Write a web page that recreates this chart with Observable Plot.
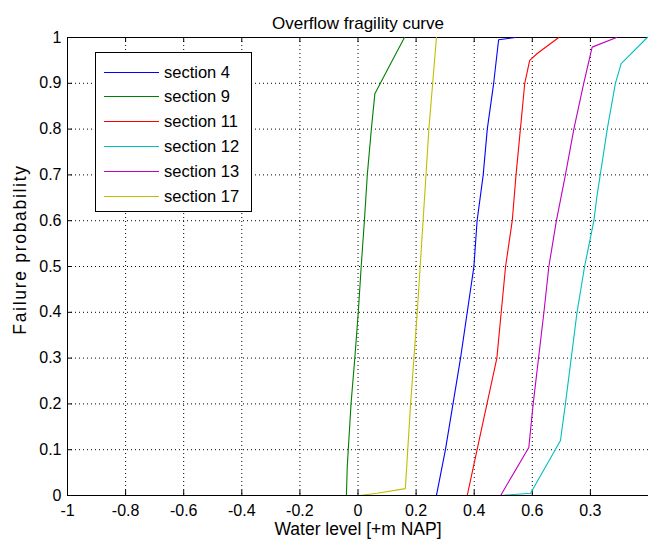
<!DOCTYPE html>
<html>
<head>
<meta charset="utf-8">
<script src="https://cdn.jsdelivr.net/npm/d3@7"></script>
<script src="https://cdn.jsdelivr.net/npm/@observablehq/plot@0.6"></script>
<style>
  body { margin: 0; background: #fff; }
  #wrap { position: relative; width: 648px; height: 545px; font-family: "Liberation Sans", Arial, sans-serif; }
  #legend { position: absolute; left: 95px; top: 52px; width: 155px; height: 158px; border: 1px solid #000; background: #fff; box-sizing: content-box; }
  .row { position: absolute; left: 8px; height: 20px; display: flex; align-items: center; font-size: 16.5px; color: #000; white-space: nowrap; }
  .row .sw { width: 55px; height: 0; border-top: 1.3px solid; margin-right: 5px; }
</style>
</head>
<body>
<div id="wrap"></div>
<script>
// ---- data ----
const sections = ["section 4", "section 9", "section 11", "section 12", "section 13", "section 17"];
const colors = ["#0000ff", "#008000", "#ff0000", "#00bfbf", "#bf00bf", "#bfbf00"];

const level4  = [0.270, 0.301, 0.353, 0.399, 0.410, 0.431, 0.445, 0.467, 0.484, 0.542];
const prob4   = [0.000, 0.100, 0.300, 0.500, 0.600, 0.700, 0.800, 0.900, 0.995, 1.000];

const level9  = [-0.040, -0.037, -0.024, -0.011, 0.001, 0.011, 0.022, 0.032, 0.046, 0.058, 0.077, 0.118, 0.160];
const prob9   = [0.000, 0.063, 0.200, 0.300, 0.400, 0.500, 0.600, 0.700, 0.800, 0.877, 0.900, 0.950, 1.000];

const level11 = [0.320, 0.376, 0.410, 0.478, 0.493, 0.508, 0.531, 0.544, 0.559, 0.574, 0.591, 0.617, 0.691];
const prob11  = [0.000, 0.000, 0.100, 0.300, 0.400, 0.500, 0.600, 0.700, 0.800, 0.900, 0.950, 0.965, 1.000];

const level12 = [0.491, 0.594, 0.697, 0.714, 0.754, 0.780, 0.812, 0.822, 0.858, 0.886, 0.906, 0.996];
const prob12  = [0.000, 0.005, 0.120, 0.200, 0.400, 0.500, 0.600, 0.651, 0.800, 0.900, 0.943, 1.000];

const level13 = [0.100, 0.491, 0.588, 0.603, 0.640, 0.657, 0.683, 0.714, 0.743, 0.777, 0.806, 0.890];
const prob13  = [0.000, 0.000, 0.105, 0.200, 0.400, 0.500, 0.600, 0.700, 0.800, 0.900, 0.979, 1.000];

const level17 = [0.006, 0.066, 0.163, 0.181, 0.204, 0.224, 0.244, 0.270];
const prob17  = [0.000, 0.005, 0.015, 0.200, 0.400, 0.600, 0.800, 1.000];

const xTicks = [-1, -0.8, -0.6, -0.4, -0.2, 0, 0.2, 0.4, 0.6, 0.8];
const xTickLabels = ["-1", "-0.8", "-0.6", "-0.4", "-0.2", "0", "0.2", "0.4", "0.6", "0.3"];
const yTicks = [0, 0.1, 0.2, 0.3, 0.4, 0.5, 0.6, 0.7, 0.8, 0.9, 1];
const yTickLabels = ["0", "0.1", "0.2", "0.3", "0.4", "0.5", "0.6", "0.7", "0.8", "0.9", "1"];

const title = "Overflow fragility curve";
const xLabel = "Water level [+m NAP]";
const yLabel = "Failure probability";

// ---- build table ----
const levels = [level4, level9, level11, level12, level13, level17];
const probs = [prob4, prob9, prob11, prob12, prob13, prob17];
const rows = [];
sections.forEach((s, k) => levels[k].forEach((x, i) => rows.push({section: s, x, y: probs[k][i]})));

const font = "'Liberation Sans', Arial, sans-serif";
const chart = Plot.plot({
  width: 648, height: 545,
  marginLeft: 67, marginRight: 0, marginTop: 37, marginBottom: 50,
  style: {fontFamily: font, fontSize: "16px", color: "#000", background: "#fff"},
  x: {domain: [-1, 1]},
  y: {domain: [0, 1]},
  color: {domain: sections, range: colors},
  marks: [
    Plot.ruleX(xTicks, {stroke: "#000", strokeDasharray: "1,3", strokeWidth: 1}),
    Plot.ruleY(yTicks, {stroke: "#000", strokeDasharray: "1,3", strokeWidth: 1}),
    // inner tick marks (MATLAB style)
    Plot.ruleX(xTicks, {y1: 0, y2: 0.011, stroke: "#000"}),
    Plot.ruleX(xTicks, {y1: 0.989, y2: 1, stroke: "#000"}),
    Plot.ruleY(yTicks, {x1: -1, x2: -0.983, stroke: "#000"}),
    Plot.frame({stroke: "#000"}),
    Plot.line(rows, {x: "x", y: "y", z: "section", stroke: "section", strokeWidth: 1.1, clip: true}),
    Plot.axisX(xTicks, {tickSize: 0, tickPadding: 9, fontSize: 16, tickFormat: d => xTickLabels[xTicks.indexOf(d)], label: null}),
    Plot.axisY(yTicks, {tickSize: 0, tickPadding: 6, fontSize: 16, tickFormat: d => yTickLabels[yTicks.indexOf(d)], label: null}),
    Plot.text([title], {frameAnchor: "top", dy: -21, text: d => d, fontSize: 17}),
    Plot.text([xLabel], {frameAnchor: "bottom", dy: 39, text: d => d, fontSize: 17.5}),
    Plot.text([yLabel], {frameAnchor: "left", textAnchor: "middle", dx: -47, dy: -17, rotate: -90, text: d => d, fontSize: 17.5})
  ]
});

// widen the rotated y label to match the reference's letter spacing
d3.select(chart).selectAll("text").filter(function () { return this.textContent === yLabel; })
  .style("letter-spacing", "1.7px");

const wrap = document.getElementById("wrap");
wrap.appendChild(chart);

const legend = document.createElement("div");
legend.id = "legend";
sections.forEach((s, i) => {
  const r = document.createElement("div");
  r.className = "row";
  r.style.top = (9 + i * 24.8) + "px";
  const sw = document.createElement("span");
  sw.className = "sw";
  sw.style.borderTopColor = colors[i];
  const t = document.createElement("span");
  t.textContent = s;
  r.appendChild(sw); r.appendChild(t);
  legend.appendChild(r);
});
wrap.appendChild(legend);
</script>
</body>
</html>
